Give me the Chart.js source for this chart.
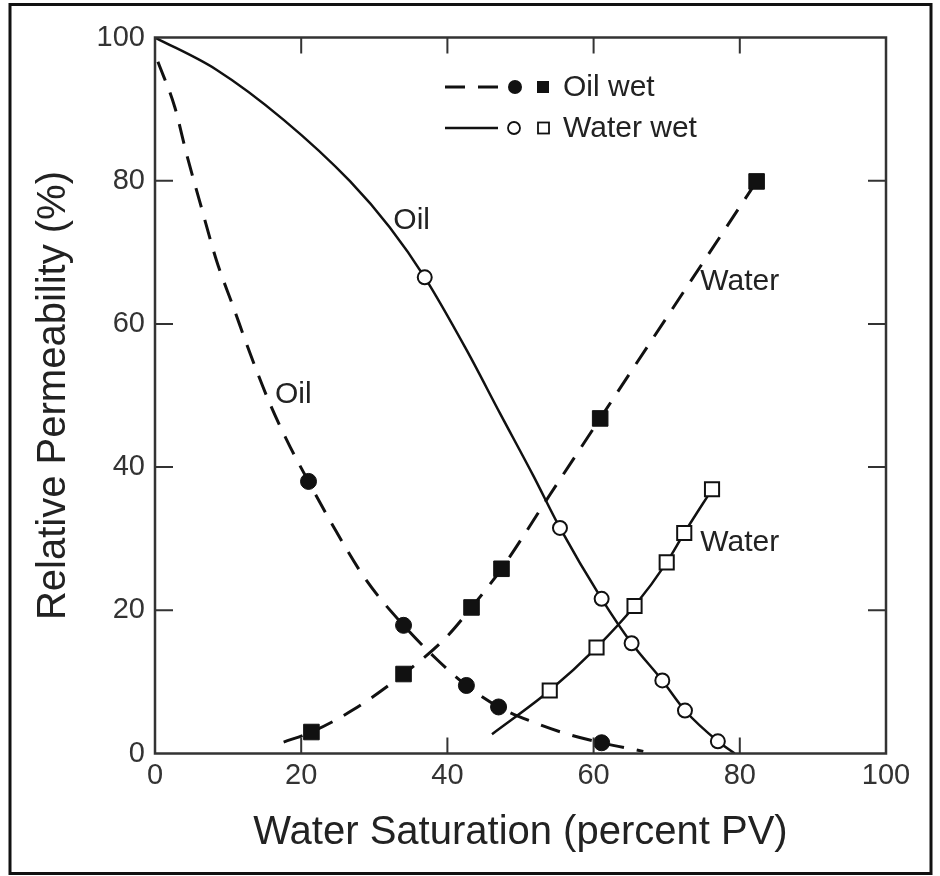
<!DOCTYPE html>
<html>
<head>
<meta charset="utf-8">
<title>Relative Permeability</title>
<script src="https://cdn.jsdelivr.net/npm/chart.js@4"></script>
<style>
  html, body { margin: 0; padding: 0; background: #fff; }
  canvas { display: block; }
</style>
</head>
<body>
<canvas id="relPermChart" width="940" height="876"></canvas>
<script>
// Oil wet, oil phase: dashed curve and filled circles  [Sw %, kr %]
const oilWetOilCurve = [[0.4, 96.6], [2.7, 90.3], [4.3, 83.8], [6.2, 76.8], [8.4, 68.9], [10.7, 62.4],
  [13, 55.9], [15.7, 48.9], [18.5, 42.8], [21, 38], [24.4, 31.7], [28.9, 24.2], [34, 17.9],
  [38.5, 13.2], [42.6, 9.5], [47, 6.5], [52.2, 4.2], [56.8, 2.6], [61.1, 1.5], [66.8, 0.3]];
const oilWetOilPoints = [[21, 38], [34, 17.9], [42.6, 9.5], [47, 6.5], [61.1, 1.5]];

// Oil wet, water phase: dashed curve and filled squares
const oilWetWaterCurve = [[17.6, 1.6], [21.4, 3], [27.1, 6.1], [34, 11.1], [39.9, 16.3], [43.3, 20.4],
  [47.4, 25.8], [54, 36.1], [60.9, 46.8], [70, 60.9], [82.3, 79.9]];
const oilWetWaterPoints = [[21.4, 3], [34, 11.1], [43.3, 20.4], [47.4, 25.8], [60.9, 46.8], [82.3, 79.9]];

// Water wet, oil phase: solid curve and open circles
const waterWetOilCurve = [[0, 100], [8.4, 95.5], [17.6, 88.5], [26.7, 79.9], [32.1, 73.5],
  [36.9, 66.5], [42.6, 56.4], [47.2, 47.5], [51.8, 38.7], [55.4, 31.5], [61.1, 21.6], [65.2, 15.4],
  [69.4, 10.2], [72.5, 6], [77, 1.7], [79.3, 0]];
const waterWetOilPoints = [[36.9, 66.5], [55.4, 31.5], [61.1, 21.6], [65.2, 15.4], [69.4, 10.2], [72.5, 6], [77, 1.7]];

// Water wet, water phase: solid curve and open squares
const waterWetWaterCurve = [[46.1, 2.7], [54, 8.8], [60.4, 14.8], [65.6, 20.6], [70, 26.7], [72.4, 30.8], [76.2, 36.9]];
const waterWetWaterPoints = [[54, 8.8], [60.4, 14.8], [65.6, 20.6], [70, 26.7], [72.4, 30.8], [76.2, 36.9]];

// Axis ticks
const xTickValues = [0, 20, 40, 60, 80, 100];
const yTickValues = [0, 20, 40, 60, 80, 100];

// Curve labels, anchored at their left edge in data units
const curveLabels = ['Oil', 'Oil', 'Water', 'Water'];
const curveLabelX = [32.6, 16.4, 74.6, 74.6];
const curveLabelY = [74.4, 50.1, 65.9, 29.4];

const INK = '#111';
const FONT = '"Liberation Sans", Arial, Helvetica, sans-serif';
Chart.defaults.font.family = FONT;

const toXY = pairs => pairs.map(p => ({ x: p[0], y: p[1] }));

function curve(pairs, dashed) {
  return {
    data: toXY(pairs),
    showLine: true,
    borderColor: INK,
    borderWidth: dashed ? 3 : 2.5,
    borderDash: dashed ? [20, 13] : [],
    cubicInterpolationMode: 'monotone',
    pointRadius: 0,
    order: 2
  };
}

function markers(pairs, style, filled) {
  return {
    data: toXY(pairs),
    showLine: false,
    pointStyle: style,
    pointRadius: style === 'rect' ? (filled ? 11 : 10) : (filled ? 8 : 7),
    pointBackgroundColor: filled ? INK : '#fff',
    pointBorderColor: INK,
    pointBorderWidth: filled ? 1 : 2,
    order: 1
  };
}

// Outer frame, plot box, inward ticks, legend and curve labels
const decorations = {
  id: 'decorations',
  beforeDraw(chart) {
    const ctx = chart.ctx;
    ctx.save();
    ctx.fillStyle = '#fff';
    ctx.fillRect(0, 0, chart.width, chart.height);
    ctx.restore();
  },
  afterDraw(chart) {
    const ctx = chart.ctx;
    const { left, right, top, bottom } = chart.chartArea;
    const xs = chart.scales.x, ys = chart.scales.y;
    ctx.save();

    // outer frame
    ctx.strokeStyle = '#111';
    ctx.lineWidth = 3;
    ctx.strokeRect(10, 4.5, 921, 869);

    // plot box
    ctx.strokeStyle = '#333';
    ctx.lineWidth = 2.5;
    ctx.strokeRect(left, top, right - left, bottom - top);

    // inward ticks on all four sides
    ctx.lineWidth = 2;
    ctx.beginPath();
    xTickValues.slice(1, -1).forEach(v => {
      const px = xs.getPixelForValue(v);
      ctx.moveTo(px, bottom); ctx.lineTo(px, bottom - 16);
      ctx.moveTo(px, top); ctx.lineTo(px, top + 16);
    });
    yTickValues.slice(1, -1).forEach(v => {
      const py = ys.getPixelForValue(v);
      ctx.moveTo(left, py); ctx.lineTo(left + 18, py);
      ctx.moveTo(right, py); ctx.lineTo(right - 18, py);
    });
    ctx.stroke();

    // legend
    const rowOil = 87, rowWater = 128;
    ctx.strokeStyle = INK;
    ctx.lineWidth = 3;
    ctx.setLineDash([20, 13]);
    ctx.beginPath(); ctx.moveTo(445, rowOil); ctx.lineTo(498, rowOil); ctx.stroke();
    ctx.setLineDash([]);
    ctx.lineWidth = 2.5;
    ctx.beginPath(); ctx.moveTo(445, rowWater); ctx.lineTo(498, rowWater); ctx.stroke();

    ctx.fillStyle = INK;
    ctx.beginPath(); ctx.arc(515, rowOil, 7, 0, Math.PI * 2); ctx.fill();
    ctx.fillRect(537, rowOil - 6, 12, 12);

    ctx.lineWidth = 1.8;
    ctx.fillStyle = '#fff';
    ctx.beginPath(); ctx.arc(514, rowWater, 6, 0, Math.PI * 2); ctx.fill(); ctx.stroke();
    ctx.fillRect(538, rowWater - 5.5, 11, 11);
    ctx.strokeRect(538, rowWater - 5.5, 11, 11);

    ctx.fillStyle = '#222';
    ctx.font = '30px ' + FONT;
    ctx.textAlign = 'left';
    ctx.textBaseline = 'middle';
    ctx.fillText('Oil wet', 563, rowOil + 1);
    ctx.fillText('Water wet', 563, rowWater + 1);

    // curve labels
    curveLabels.forEach((txt, i) => {
      ctx.fillText(txt, xs.getPixelForValue(curveLabelX[i]), ys.getPixelForValue(curveLabelY[i]));
    });

    ctx.restore();
  }
};

new Chart(document.getElementById('relPermChart').getContext('2d'), {
  type: 'scatter',
  data: {
    datasets: [
      curve(oilWetOilCurve, true),
      curve(oilWetWaterCurve, true),
      curve(waterWetOilCurve, false),
      curve(waterWetWaterCurve, false),
      markers(oilWetOilPoints, 'circle', true),
      markers(oilWetWaterPoints, 'rect', true),
      markers(waterWetOilPoints, 'circle', false),
      markers(waterWetWaterPoints, 'rect', false)
    ]
  },
  options: {
    responsive: false,
    animation: false,
    layout: { padding: { left: 0, top: 37.5, right: 54, bottom: 0 } },
    plugins: {
      legend: { display: false },
      tooltip: { enabled: false }
    },
    scales: {
      x: {
        type: 'linear',
        min: 0,
        max: 100,
        afterBuildTicks: scale => { scale.ticks = xTickValues.map(v => ({ value: v })); },
        ticks: { color: '#333', font: { size: 29 }, padding: 5, maxRotation: 0 },
        grid: { display: false, drawTicks: false },
        border: { display: false },
        title: {
          display: true,
          text: 'Water Saturation (percent PV)',
          color: '#222',
          font: { size: 40 },
          padding: { top: 0, bottom: 19 }
        },
        afterFit: scale => { scale.height = 122.5; }
      },
      y: {
        type: 'linear',
        min: 0,
        max: 100,
        afterBuildTicks: scale => { scale.ticks = yTickValues.map(v => ({ value: v })); },
        ticks: { color: '#333', font: { size: 29 }, padding: 10 },
        grid: { display: false, drawTicks: false },
        border: { display: false },
        title: {
          display: true,
          text: 'Relative Permeability (%)',
          color: '#222',
          font: { size: 40 },
          padding: { top: 30, bottom: 0 }
        },
        afterFit: scale => { scale.width = 155; }
      }
    }
  },
  plugins: [decorations]
});
</script>
</body>
</html>
